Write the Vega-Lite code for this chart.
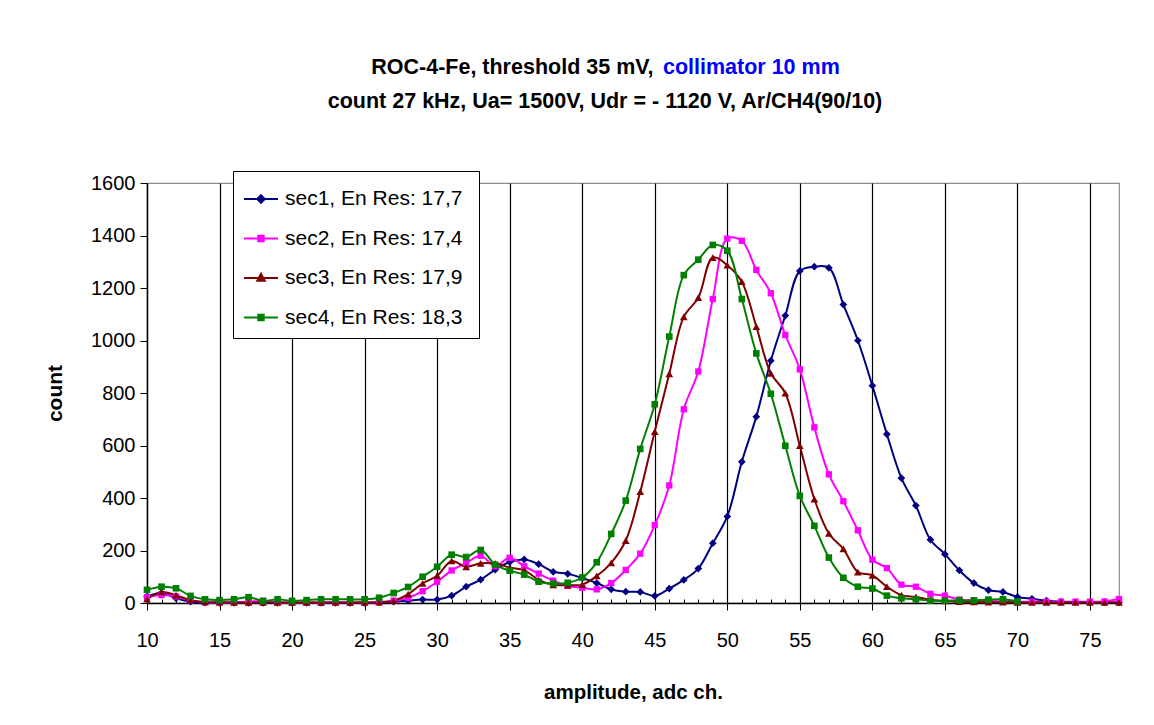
{
  "$schema": "https://vega.github.io/schema/vega-lite/v6.json",
  "width": 972,
  "height": 420,
  "autosize": {"type": "none"},
  "padding": {"left": 147, "top": 183, "right": 35, "bottom": 122},
  "background": "white",
  "config": {
    "font": "Liberation Sans",
    "view": {"stroke": "#8c8c8c", "strokeWidth": 1.2},
    "axis": {"labelFont": "Liberation Sans", "titleFont": "Liberation Sans", "labelColor": "black", "titleColor": "black"}
  },
  "title": {
    "text": ["ROC-4-Fe, threshold 35 mV,\u00a0\u00a0\u00a0\u00a0\u00a0\u00a0\u00a0\u00a0\u00a0\u00a0\u00a0\u00a0\u00a0\u00a0\u00a0\u00a0\u00a0\u00a0\u00a0\u00a0\u00a0\u00a0\u00a0\u00a0\u00a0\u00a0\u00a0\u00a0\u00a0\u00a0\u00a0\u200b", "count 27 kHz, Ua= 1500V, Udr = - 1120 V, Ar/CH4(90/10)"],
    "subtitle": "\u200b\u00a0\u00a0\u00a0\u00a0\u00a0\u00a0\u00a0\u00a0\u00a0\u00a0\u00a0\u00a0\u00a0\u00a0\u00a0\u00a0\u00a0\u00a0\u00a0\u00a0\u00a0\u00a0\u00a0\u00a0\u00a0\u00a0\u00a0\u00a0\u00a0\u00a0\u00a0\u00a0\u00a0\u00a0\u00a0\u00a0\u00a0\u00a0\u00a0\u00a0\u00a0\u00a0\u00a0\u00a0\u00a0\u00a0\u00a0\u00a0\u00a0collimator 10 mm",
    "font": "Liberation Sans",
    "fontSize": 21.5,
    "fontWeight": "bold",
    "color": "black",
    "lineHeight": 34,
    "subtitleFont": "Liberation Sans",
    "subtitleFontSize": 21.5,
    "subtitleFontWeight": "bold",
    "subtitleColor": "#0000FF",
    "subtitleLineHeight": 34,
    "subtitlePadding": -55.5,
    "anchor": "middle",
    "frame": "group",
    "dx": -28,
    "offset": 58
  },
  "data": {
    "values": [
      {"ch": 10, "sec1, En Res: 17,7": 24, "sec2, En Res: 17,4": 22, "sec3, En Res: 17,9": 15, "sec4,  En Res: 18,3": 50},
      {"ch": 11, "sec1, En Res: 17,7": 38, "sec2, En Res: 17,4": 30, "sec3, En Res: 17,9": 42, "sec4,  En Res: 18,3": 62},
      {"ch": 12, "sec1, En Res: 17,7": 18, "sec2, En Res: 17,4": 25, "sec3, En Res: 17,9": 30, "sec4,  En Res: 18,3": 56},
      {"ch": 13, "sec1, En Res: 17,7": 5, "sec2, En Res: 17,4": 10, "sec3, En Res: 17,9": 11, "sec4,  En Res: 18,3": 27},
      {"ch": 14, "sec1, En Res: 17,7": 1, "sec2, En Res: 17,4": 3, "sec3, En Res: 17,9": 4, "sec4,  En Res: 18,3": 14},
      {"ch": 15, "sec1, En Res: 17,7": 0, "sec2, En Res: 17,4": 2, "sec3, En Res: 17,9": 3, "sec4,  En Res: 18,3": 11},
      {"ch": 16, "sec1, En Res: 17,7": 0, "sec2, En Res: 17,4": 3, "sec3, En Res: 17,9": 2, "sec4,  En Res: 18,3": 14},
      {"ch": 17, "sec1, En Res: 17,7": 0, "sec2, En Res: 17,4": 5, "sec3, En Res: 17,9": 2, "sec4,  En Res: 18,3": 22},
      {"ch": 18, "sec1, En Res: 17,7": 0, "sec2, En Res: 17,4": 8, "sec3, En Res: 17,9": 2, "sec4,  En Res: 18,3": 8},
      {"ch": 19, "sec1, En Res: 17,7": 0, "sec2, En Res: 17,4": 3, "sec3, En Res: 17,9": 2, "sec4,  En Res: 18,3": 14},
      {"ch": 20, "sec1, En Res: 17,7": 0, "sec2, En Res: 17,4": 2, "sec3, En Res: 17,9": 2, "sec4,  En Res: 18,3": 8},
      {"ch": 21, "sec1, En Res: 17,7": 0, "sec2, En Res: 17,4": 2, "sec3, En Res: 17,9": 2, "sec4,  En Res: 18,3": 11},
      {"ch": 22, "sec1, En Res: 17,7": 0, "sec2, En Res: 17,4": 2, "sec3, En Res: 17,9": 2, "sec4,  En Res: 18,3": 14},
      {"ch": 23, "sec1, En Res: 17,7": 0, "sec2, En Res: 17,4": 3, "sec3, En Res: 17,9": 2, "sec4,  En Res: 18,3": 14},
      {"ch": 24, "sec1, En Res: 17,7": 0, "sec2, En Res: 17,4": 3, "sec3, En Res: 17,9": 2, "sec4,  En Res: 18,3": 14},
      {"ch": 25, "sec1, En Res: 17,7": 0, "sec2, En Res: 17,4": 3, "sec3, En Res: 17,9": 2, "sec4,  En Res: 18,3": 14},
      {"ch": 26, "sec1, En Res: 17,7": 2, "sec2, En Res: 17,4": 4, "sec3, En Res: 17,9": 3, "sec4,  En Res: 18,3": 20},
      {"ch": 27, "sec1, En Res: 17,7": 5, "sec2, En Res: 17,4": 9, "sec3, En Res: 17,9": 9, "sec4,  En Res: 18,3": 38},
      {"ch": 28, "sec1, En Res: 17,7": 9, "sec2, En Res: 17,4": 20, "sec3, En Res: 17,9": 34, "sec4,  En Res: 18,3": 61},
      {"ch": 29, "sec1, En Res: 17,7": 13, "sec2, En Res: 17,4": 45, "sec3, En Res: 17,9": 75, "sec4,  En Res: 18,3": 100},
      {"ch": 30, "sec1, En Res: 17,7": 13, "sec2, En Res: 17,4": 81, "sec3, En Res: 17,9": 104, "sec4,  En Res: 18,3": 138},
      {"ch": 31, "sec1, En Res: 17,7": 28, "sec2, En Res: 17,4": 124, "sec3, En Res: 17,9": 160, "sec4,  En Res: 18,3": 184},
      {"ch": 32, "sec1, En Res: 17,7": 62, "sec2, En Res: 17,4": 152, "sec3, En Res: 17,9": 138, "sec4,  En Res: 18,3": 175},
      {"ch": 33, "sec1, En Res: 17,7": 89, "sec2, En Res: 17,4": 180, "sec3, En Res: 17,9": 151, "sec4,  En Res: 18,3": 202},
      {"ch": 34, "sec1, En Res: 17,7": 127, "sec2, En Res: 17,4": 140, "sec3, En Res: 17,9": 151, "sec4,  En Res: 18,3": 146},
      {"ch": 35, "sec1, En Res: 17,7": 156, "sec2, En Res: 17,4": 172, "sec3, En Res: 17,9": 135, "sec4,  En Res: 18,3": 123},
      {"ch": 36, "sec1, En Res: 17,7": 166, "sec2, En Res: 17,4": 140, "sec3, En Res: 17,9": 125, "sec4,  En Res: 18,3": 108},
      {"ch": 37, "sec1, En Res: 17,7": 148, "sec2, En Res: 17,4": 112, "sec3, En Res: 17,9": 88, "sec4,  En Res: 18,3": 81},
      {"ch": 38, "sec1, En Res: 17,7": 119, "sec2, En Res: 17,4": 85, "sec3, En Res: 17,9": 69, "sec4,  En Res: 18,3": 74},
      {"ch": 39, "sec1, En Res: 17,7": 111, "sec2, En Res: 17,4": 65, "sec3, En Res: 17,9": 68, "sec4,  En Res: 18,3": 77},
      {"ch": 40, "sec1, En Res: 17,7": 95, "sec2, En Res: 17,4": 58, "sec3, En Res: 17,9": 70, "sec4,  En Res: 18,3": 97},
      {"ch": 41, "sec1, En Res: 17,7": 76, "sec2, En Res: 17,4": 52, "sec3, En Res: 17,9": 103, "sec4,  En Res: 18,3": 155},
      {"ch": 42, "sec1, En Res: 17,7": 52, "sec2, En Res: 17,4": 76, "sec3, En Res: 17,9": 153, "sec4,  En Res: 18,3": 263},
      {"ch": 43, "sec1, En Res: 17,7": 43, "sec2, En Res: 17,4": 126, "sec3, En Res: 17,9": 238, "sec4,  En Res: 18,3": 390},
      {"ch": 44, "sec1, En Res: 17,7": 42, "sec2, En Res: 17,4": 188, "sec3, En Res: 17,9": 424, "sec4,  En Res: 18,3": 587},
      {"ch": 45, "sec1, En Res: 17,7": 27, "sec2, En Res: 17,4": 297, "sec3, En Res: 17,9": 653, "sec4,  En Res: 18,3": 757},
      {"ch": 46, "sec1, En Res: 17,7": 55, "sec2, En Res: 17,4": 448, "sec3, En Res: 17,9": 873, "sec4,  En Res: 18,3": 1015},
      {"ch": 47, "sec1, En Res: 17,7": 88, "sec2, En Res: 17,4": 738, "sec3, En Res: 17,9": 1090, "sec4,  En Res: 18,3": 1249},
      {"ch": 48, "sec1, En Res: 17,7": 131, "sec2, En Res: 17,4": 882, "sec3, En Res: 17,9": 1163, "sec4,  En Res: 18,3": 1308},
      {"ch": 49, "sec1, En Res: 17,7": 228, "sec2, En Res: 17,4": 1158, "sec3, En Res: 17,9": 1316, "sec4,  En Res: 18,3": 1364},
      {"ch": 50, "sec1, En Res: 17,7": 330, "sec2, En Res: 17,4": 1388, "sec3, En Res: 17,9": 1287, "sec4,  En Res: 18,3": 1342},
      {"ch": 51, "sec1, En Res: 17,7": 538, "sec2, En Res: 17,4": 1380, "sec3, En Res: 17,9": 1224, "sec4,  En Res: 18,3": 1158},
      {"ch": 52, "sec1, En Res: 17,7": 710, "sec2, En Res: 17,4": 1269, "sec3, En Res: 17,9": 1053, "sec4,  En Res: 18,3": 951},
      {"ch": 53, "sec1, En Res: 17,7": 923, "sec2, En Res: 17,4": 1180, "sec3, En Res: 17,9": 875, "sec4,  En Res: 18,3": 797},
      {"ch": 54, "sec1, En Res: 17,7": 1095, "sec2, En Res: 17,4": 1021, "sec3, En Res: 17,9": 799, "sec4,  En Res: 18,3": 599},
      {"ch": 55, "sec1, En Res: 17,7": 1265, "sec2, En Res: 17,4": 890, "sec3, En Res: 17,9": 599, "sec4,  En Res: 18,3": 408},
      {"ch": 56, "sec1, En Res: 17,7": 1281, "sec2, En Res: 17,4": 669, "sec3, En Res: 17,9": 396, "sec4,  En Res: 18,3": 294},
      {"ch": 57, "sec1, En Res: 17,7": 1277, "sec2, En Res: 17,4": 490, "sec3, En Res: 17,9": 265, "sec4,  En Res: 18,3": 173},
      {"ch": 58, "sec1, En Res: 17,7": 1137, "sec2, En Res: 17,4": 388, "sec3, En Res: 17,9": 206, "sec4,  En Res: 18,3": 96},
      {"ch": 59, "sec1, En Res: 17,7": 1000, "sec2, En Res: 17,4": 277, "sec3, En Res: 17,9": 118, "sec4,  En Res: 18,3": 62},
      {"ch": 60, "sec1, En Res: 17,7": 828, "sec2, En Res: 17,4": 165, "sec3, En Res: 17,9": 105, "sec4,  En Res: 18,3": 55},
      {"ch": 61, "sec1, En Res: 17,7": 643, "sec2, En Res: 17,4": 133, "sec3, En Res: 17,9": 62, "sec4,  En Res: 18,3": 28},
      {"ch": 62, "sec1, En Res: 17,7": 476, "sec2, En Res: 17,4": 70, "sec3, En Res: 17,9": 30, "sec4,  En Res: 18,3": 18},
      {"ch": 63, "sec1, En Res: 17,7": 371, "sec2, En Res: 17,4": 62, "sec3, En Res: 17,9": 23, "sec4,  En Res: 18,3": 14},
      {"ch": 64, "sec1, En Res: 17,7": 241, "sec2, En Res: 17,4": 35, "sec3, En Res: 17,9": 12, "sec4,  En Res: 18,3": 9},
      {"ch": 65, "sec1, En Res: 17,7": 186, "sec2, En Res: 17,4": 28, "sec3, En Res: 17,9": 8, "sec4,  En Res: 18,3": 9},
      {"ch": 66, "sec1, En Res: 17,7": 124, "sec2, En Res: 17,4": 13, "sec3, En Res: 17,9": 5, "sec4,  En Res: 18,3": 10},
      {"ch": 67, "sec1, En Res: 17,7": 76, "sec2, En Res: 17,4": 10, "sec3, En Res: 17,9": 4, "sec4,  En Res: 18,3": 10},
      {"ch": 68, "sec1, En Res: 17,7": 49, "sec2, En Res: 17,4": 8, "sec3, En Res: 17,9": 3, "sec4,  En Res: 18,3": 13},
      {"ch": 69, "sec1, En Res: 17,7": 42, "sec2, En Res: 17,4": 6, "sec3, En Res: 17,9": 3, "sec4,  En Res: 18,3": 14},
      {"ch": 70, "sec1, En Res: 17,7": 23, "sec2, En Res: 17,4": 5, "sec3, En Res: 17,9": 2, "sec4,  En Res: 18,3": 6},
      {"ch": 71, "sec1, En Res: 17,7": 16, "sec2, En Res: 17,4": 5, "sec3, En Res: 17,9": 2},
      {"ch": 72, "sec1, En Res: 17,7": 9, "sec2, En Res: 17,4": 5, "sec3, En Res: 17,9": 2},
      {"ch": 73, "sec1, En Res: 17,7": 5, "sec2, En Res: 17,4": 5, "sec3, En Res: 17,9": 2},
      {"ch": 74, "sec1, En Res: 17,7": 3, "sec2, En Res: 17,4": 5, "sec3, En Res: 17,9": 2},
      {"ch": 75, "sec1, En Res: 17,7": 2, "sec2, En Res: 17,4": 5, "sec3, En Res: 17,9": 2},
      {"ch": 76, "sec1, En Res: 17,7": 2, "sec2, En Res: 17,4": 6, "sec3, En Res: 17,9": 2},
      {"ch": 77, "sec1, En Res: 17,7": 2, "sec2, En Res: 17,4": 15, "sec3, En Res: 17,9": 2}
    ]
  },
  "transform": [
    {"fold": ["sec1, En Res: 17,7", "sec2, En Res: 17,4", "sec3, En Res: 17,9", "sec4,  En Res: 18,3"], "as": ["series", "count"]},
    {"filter": "isValid(datum.count)"}
  ],
  "encoding": {
    "x": {
      "field": "ch",
      "type": "quantitative",
      "scale": {"domain": [10, 77], "nice": false, "zero": false},
      "axis": {
        "title": "amplitude, adc ch.",
        "titleFontSize": 20.5,
        "titleFontWeight": "bold",
        "titlePadding": 32,
        "values": [10,11,12,13,14,15,16,17,18,19,20,21,22,23,24,25,26,27,28,29,30,31,32,33,34,35,36,37,38,39,40,41,42,43,44,45,46,47,48,49,50,51,52,53,54,55,56,57,58,59,60,61,62,63,64,65,66,67,68,69,70,71,72,73,74,75,76,77],
        "labelExpr": "datum.value % 5 === 0 ? datum.label : ''",
        "labelFontSize": 20,
        "labelPadding": 20,
        "labelFlush": false,
        "labelOverlap": false,
        "domainColor": "black",
        "domainWidth": 1.5,
        "tickColor": "black",
        "tickWidth": 1,
        "tickSize": {"condition": {"test": "datum.value % 5 === 0", "value": 7}, "value": -4},
        "grid": true,
        "gridColor": "black",
        "gridWidth": 1.2,
        "gridOpacity": {"condition": {"test": "datum.value % 5 === 0 && datum.value > 10", "value": 1}, "value": 0}
      }
    },
    "y": {
      "field": "count",
      "type": "quantitative",
      "scale": {"domain": [0, 1600], "nice": false},
      "axis": {
        "title": "count",
        "titleFontSize": 21,
        "titleFontWeight": "bold",
        "titlePadding": 25,
        "format": "d",
        "values": [0, 200, 400, 600, 800, 1000, 1200, 1400, 1600],
        "labelFontSize": 20,
        "labelPadding": 5,
        "domainColor": "black",
        "domainWidth": 1.5,
        "tickColor": "black",
        "tickSize": 7,
        "grid": false
      }
    },
    "color": {
      "field": "series",
      "type": "nominal",
      "scale": {
        "domain": ["sec1, En Res: 17,7", "sec2, En Res: 17,4", "sec3, En Res: 17,9", "sec4,  En Res: 18,3"],
        "range": ["#000080", "#FF00FF", "#800000", "#008000"]
      },
      "legend": {
        "orient": "none",
        "legendX": 86,
        "legendY": -12,
        "title": null,
        "strokeColor": "black",
        "fillColor": "white",
        "padding": 10,
        "labelFont": "Liberation Sans",
        "labelFontSize": 21,
        "labelColor": "black",
        "labelLimit": 400,
        "labelOffset": 6,
        "rowPadding": 11.5,
        "symbolSize": 1156,
        "symbolStrokeWidth": 2,
        "encoding": {
          "symbols": {
            "shape": {"value": {"expr": "datum.value === 'sec1, En Res: 17,7' ? 'M-1,0L1,0M-0.22,0L0,-0.22L0.22,0L0,0.22Z' : datum.value === 'sec3, En Res: 17,9' ? 'M-1,0L1,0M-0.22,0.16L0.22,0.16L0,-0.24Z' : 'M-1,0L1,0M-0.16,-0.16L0.16,-0.16L0.16,0.16L-0.16,0.16Z'"}},
            "stroke": {"value": {"expr": "scale('color', datum.value)"}},
            "fill": {"value": {"expr": "scale('color', datum.value)"}},
            "strokeWidth": {"value": 2},
            "opacity": {"value": 1}
          }
        }
      }
    }
  },
  "layer": [
    {
      "mark": {"type": "line", "interpolate": "catmull-rom", "strokeWidth": 2}
    },
    {
      "transform": [{"filter": {"field": "series", "equal": "sec1, En Res: 17,7"}}],
      "mark": {"type": "point", "filled": true, "opacity": 1, "shape": "diamond", "size": 60}
    },
    {
      "transform": [{"filter": {"field": "series", "equal": "sec2, En Res: 17,4"}}],
      "mark": {"type": "point", "filled": true, "opacity": 1, "shape": "square", "size": 40}
    },
    {
      "transform": [{"filter": {"field": "series", "equal": "sec3, En Res: 17,9"}}],
      "mark": {"type": "point", "filled": true, "opacity": 1, "shape": "triangle-up", "size": 60}
    },
    {
      "transform": [{"filter": {"field": "series", "equal": "sec4,  En Res: 18,3"}}],
      "mark": {"type": "point", "filled": true, "opacity": 1, "shape": "square", "size": 44}
    }
  ]
}
